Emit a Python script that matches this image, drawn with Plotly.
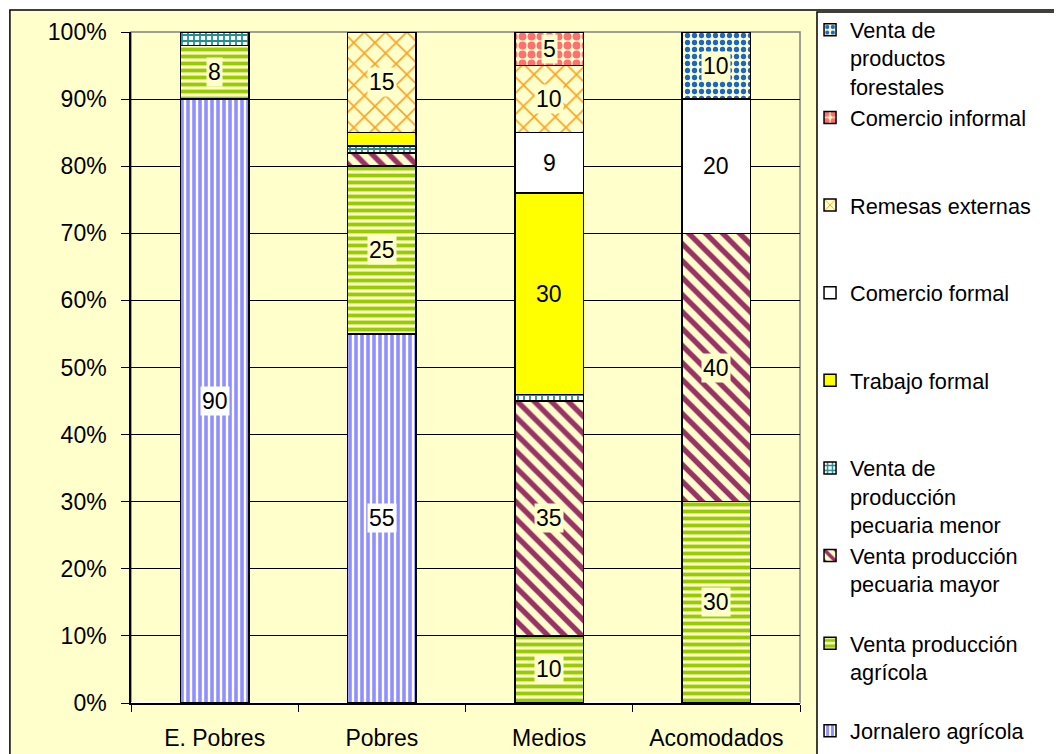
import plotly.graph_objects as go

# Income sources by wealth group (% of household income)
categories = ["E. Pobres", "Pobres", "Medios", "Acomodados"]

jornalero = [90, 55, 0, 0]
agricola = [8, 25, 10, 30]
pecuaria_mayor = [0, 2, 35, 40]
pecuaria_menor = [2, 1, 1, 0]
trabajo_formal = [0, 2, 30, 0]
comercio_formal = [0, 0, 9, 20]
remesas = [0, 15, 10, 0]
comercio_informal = [0, 0, 5, 0]
forestales = [0, 0, 0, 10]

# legend names padded to three lines so entries spread evenly like the original
series = [
    ("Jornalero agrícola", jornalero,
     dict(shape="|", fgcolor="#8F8FFF", bgcolor="white", size=6, solidity=0.6)),
    ("Venta producción<br>agrícola<br> ", agricola,
     dict(shape="-", fgcolor="#99CC00", bgcolor="#FFFFCC", size=7, solidity=0.55)),
    ("Venta producción<br>pecuaria mayor<br> ", pecuaria_mayor,
     dict(shape="\\", fgcolor="#993366", bgcolor="#FFFFCC", size=12, solidity=0.45)),
    ("Venta de<br>producción<br>pecuaria menor", pecuaria_menor,
     dict(shape="+", fgcolor="#1F8F8F", bgcolor="white", size=6, solidity=0.5)),
    ("Trabajo formal<br> <br> ", trabajo_formal,
     dict(shape="", fgcolor="#FFFF00", bgcolor="#FFFF00")),
    ("Comercio formal<br> <br> ", comercio_formal,
     dict(shape="", fgcolor="white", bgcolor="white")),
    ("Remesas externas<br> <br> ", remesas,
     dict(shape="x", fgcolor="#FF9F1A", bgcolor="#FFFFCC", size=15, solidity=0.2)),
    ("Comercio informal<br> <br> ", comercio_informal,
     dict(shape=".", fgcolor="#FF7070", bgcolor="#FFFFCC", size=9, solidity=0.6)),
    ("Venta de<br>productos<br>forestales", forestales,
     dict(shape=".", fgcolor="#1A66CC", bgcolor="#FFFFCC", size=7, solidity=0.45)),
]

FONT = "Liberation Sans, Arial, sans-serif"

fig = go.Figure()
annotations = []
base = [0] * len(categories)

for name, values, pattern in series:
    solid = pattern["shape"] == ""
    if not solid:
        pattern = dict(pattern, fgopacity=1)
    fig.add_trace(go.Bar(
        x=categories,
        y=values,
        name=name,
        marker=dict(
            color=pattern["bgcolor"],
            line=dict(color="black", width=1.5),
            pattern=None if solid else pattern,
        ),
    ))
    for i, v in enumerate(values):
        if v >= 5:
            annotations.append(dict(
                x=categories[i], y=base[i] + v / 2, text=str(v),
                showarrow=False, bgcolor=pattern["bgcolor"], borderpad=1,
                font=dict(size=23, color="black", family=FONT),
            ))
        base[i] += v

# outer chart frame and legend box
shapes = [
    dict(type="rect", xref="paper", yref="paper", x0=-0.181, x1=1.6,
         y0=-0.2, y1=1.0328, fillcolor="#FFFFCC",
         line=dict(color="black", width=1.5), layer="below"),
    dict(type="rect", xref="paper", yref="paper", x0=1.0254, x1=1.6,
         y0=-0.2, y1=1.0298, fillcolor="white",
         line=dict(color="black", width=1.5), layer="below"),
    dict(type="rect", xref="paper", yref="paper", x0=0, x1=1, y0=0, y1=1,
         line=dict(color="#808080", width=1.5), layer="below"),
]

# page body adds an 8px margin, so the figure is sized to the visible area
fig.update_layout(
    width=1054,
    height=746,
    barmode="stack",
    bargap=0.59,
    paper_bgcolor="white",
    plot_bgcolor="rgba(0,0,0,0)",
    margin=dict(l=123, r=262, t=24, b=51, autoexpand=False),
    font=dict(family=FONT, size=23, color="black"),
    shapes=shapes,
    annotations=annotations,
    showlegend=True,
    legend=dict(
        x=1.015, y=1.034, xanchor="left", yanchor="top",
        traceorder="reversed", valign="top",
        bgcolor="rgba(0,0,0,0)", font=dict(size=21.7),
        tracegroupgap=0, maxheight=1,
    ),
    xaxis=dict(
        showline=True, linecolor="black", linewidth=1.5,
        ticks="outside", tickson="boundaries", ticklen=7, tickcolor="black",
        ticklabelstandoff=14,
    ),
    yaxis=dict(
        range=[0, 100], dtick=10, ticksuffix="%",
        showline=True, linecolor="black", linewidth=1.5,
        showgrid=True, gridcolor="black", gridwidth=1,
        ticks="outside", ticklen=8, tickcolor="black",
        ticklabelstandoff=10,
    ),
)

fig.write_html("out.html")
